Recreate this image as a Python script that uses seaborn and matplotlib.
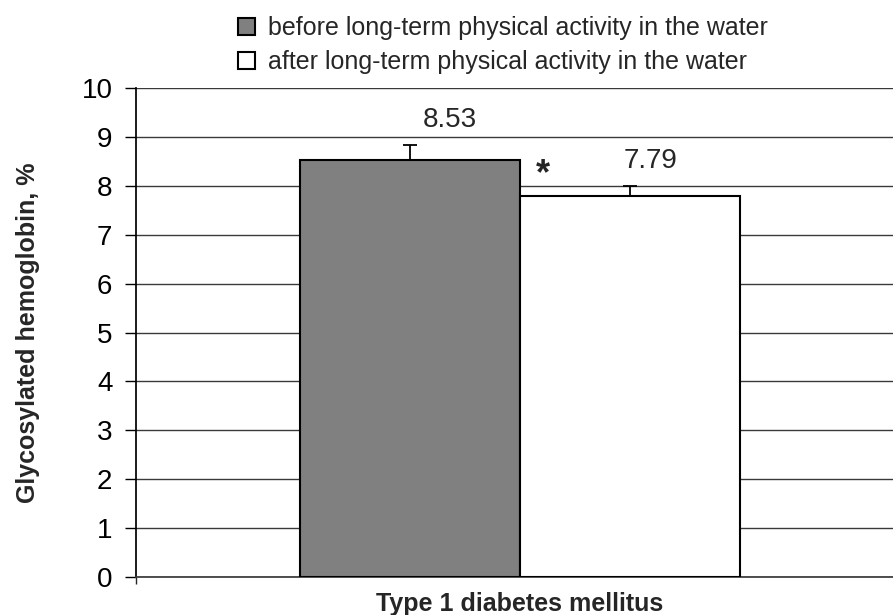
import numpy as np
import pandas as pd
import matplotlib
matplotlib.use("Agg")
import matplotlib.pyplot as plt
import seaborn as sns

sns.set_theme(style="white")
plt.rcParams['font.family'] = ['Liberation Sans', 'DejaVu Sans']

# data
group = ["Type 1 diabetes mellitus"]
conditions = ["before long-term physical activity in the water",
              "after long-term physical activity in the water"]
means = [8.53, 7.79]
errors = [0.30, 0.20]
colors = ["#808080", "#ffffff"]

# label offsets (points) to the right of each bar centre
label_dx = [29, 15]

data = pd.DataFrame({"group": group * 2, "condition": conditions, "value": means})

fig = plt.figure(figsize=(8.93, 6.15), dpi=100)
# axes run a bit past the right edge, like the original
ax = fig.add_axes([0.1523, 0.0618, 0.86, 0.795])

sns.barplot(data=data, x="group", y="value", hue="condition", hue_order=conditions,
            palette=colors, width=0.573, edgecolor="black", linewidth=1.5,
            errorbar=None, ax=ax, zorder=3)

# one-sided error bars and value labels
for bar, m, e, dx in zip(ax.patches[:2], means, errors, label_dx):
    cx = bar.get_x() + bar.get_width() / 2
    ax.errorbar(cx, m, yerr=[[0], [e]], fmt="none", ecolor="black",
                elinewidth=1.3, capsize=5, capthick=1.3, zorder=4)
    ax.annotate(f"{m:.2f}", (cx, m + e + 0.38), xytext=(dx, 0), textcoords="offset points",
                ha="center", va="baseline", fontsize=20)

# significance mark
ax.text(0.03, 8.22, "*", ha="center", va="center", fontsize=26, fontweight="bold")

ax.set_ylim(0, 10)
ax.set_xlim(-0.5, 0.5)
ax.set_yticks(range(0, 11))
ax.tick_params(axis="y", labelsize=20, length=8, width=1, direction="out", left=True,
               pad=9, colors="black")
ax.set_xticks([-0.5])
ax.set_xticklabels([""])
ax.tick_params(axis="x", length=5, width=1, direction="out", bottom=True)
ax.yaxis.grid(True, color="#3a3a3a", linewidth=1)
ax.set_axisbelow(True)

for s in ["top", "right"]:
    ax.spines[s].set_visible(False)
ax.spines["left"].set_color("black")
ax.spines["bottom"].set_color("#3a3a3a")

ax.set_ylabel("Glycosylated hemoglobin, %", fontsize=18, fontweight="bold", labelpad=30)
ax.set_xlabel("Type 1 diabetes mellitus", fontsize=18, fontweight="bold", labelpad=2)

ax.legend(loc="upper left", bbox_to_anchor=(0.266, 0.974), bbox_transform=fig.transFigure,
          frameon=False, fontsize=18, handlelength=0.68, handleheight=0.68,
          handletextpad=0.55, labelspacing=0.42, borderaxespad=0, borderpad=0)

fig.savefig("out.png", dpi=100)
